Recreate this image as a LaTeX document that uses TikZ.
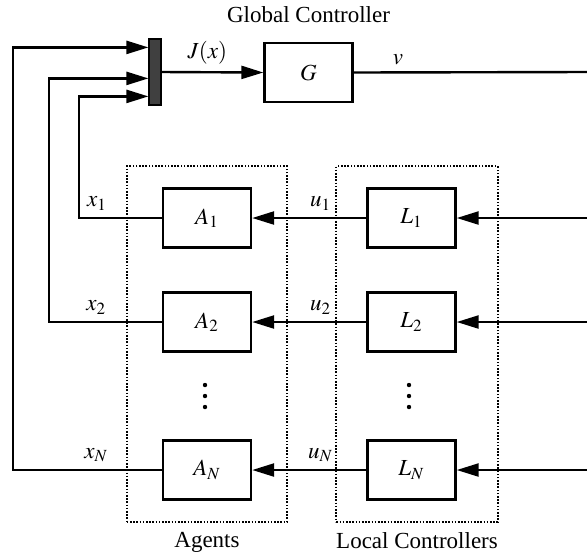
\documentclass[tikz,border=0pt]{standalone}
\usepackage{mathptmx}
\usepackage{fontspec}
\setmainfont{Liberation Serif}
\usetikzlibrary{positioning,arrows.meta,fit,backgrounds}

\begin{document}
\begin{tikzpicture}[
  x=0.5pt, y=-0.5pt,
  font=\fontsize{11.5}{13}\selectfont,
  block/.style={draw, line width=1.2pt, minimum width=44pt, minimum height=29.5pt, inner sep=0pt},
  mux/.style={draw, fill=black!75, line width=0.6pt, minimum width=6pt, minimum height=33pt, inner sep=0pt},
  group/.style={draw, line width=0.9pt, dash pattern=on 0.8pt off 0.8pt, inner ysep=10.5pt},
  dot/.style={fill, circle, inner sep=0pt, minimum size=2.2pt},
  arr/.style={-{Triangle[length=11pt, width=6.5pt]}, line width=1.2pt},
  wire/.style={line width=1.2pt},
]
\useasboundingbox (0,0) rectangle (587,553);

% --- Global controller ---
\node[mux] (bar) at (155,72) {};
\node[block, label={[label distance=6pt]above:Global Controller}] (G) at (308.5,72.5) {$G$};
\coordinate (vout) at (587,72);

% --- Agents / local controllers ---
\node[block] (A1) at (207,218) {$A_1$};
\node[block] (A2) at (207,322) {$A_2$};
\node[block] (AN) at (207,470) {$A_N$};
\node[block] (L1) at (411.5,218) {$L_1$};
\node[block] (L2) at (411.5,322) {$L_2$};
\node[block] (LN) at (411.5,470) {$L_N$};
\coordinate (in1) at (587,218);
\coordinate (in2) at (587,322);
\coordinate (inN) at (587,470);

% vertical dots
\foreach \yy in {385,396,407} {
  \node[dot] at (205,\yy) {};
  \node[dot] at (409,\yy) {};
}

% --- Groups ---
\begin{pgfonlayer}{background}
  \node[group, inner xsep=17.5pt, fit=(A1)(AN), label={[label distance=1.5pt]below:Agents}] (agents) {};
  \node[group, inner xsep=17.75pt, xshift=2.75pt, fit=(L1)(LN), label={[label distance=1.5pt]below:Local Controllers}] (locals) {};
\end{pgfonlayer}

% --- Edges ---
\draw[arr] (bar.east) -- node[above, pos=0.45] {$J(x)$} (G.west);
\draw[wire] (G.east) -- node[above, pos=0.19] {$v$} (vout);

\draw[arr] (in1) -- (L1.east);
\draw[arr] (in2) -- (L2.east);
\draw[arr] (inN) -- (LN.east);
\draw[arr] (L1.west) -- node[above, pos=0.4] {$u_1$} (A1.east);
\draw[arr] (L2.west) -- node[above, pos=0.4] {$u_2$} (A2.east);
\draw[arr] (LN.west) -- node[above, pos=0.4] {$u_N$} (AN.east);

\draw[arr] (A1.west) -- node[above, pos=0.78] {$x_1$} ++(-83,0) |- ([yshift=-29pt]bar.north west);
\draw[arr] (A2.west) -- node[above, pos=0.58] {$x_2$} ++(-113,0) |- ([yshift=-20pt]bar.north west);
\draw[arr] (AN.west) -- node[above, pos=0.44] {$x_N$} ++(-149,0) |- ([yshift=-4.5pt]bar.north west);

\end{tikzpicture}
\end{document}
